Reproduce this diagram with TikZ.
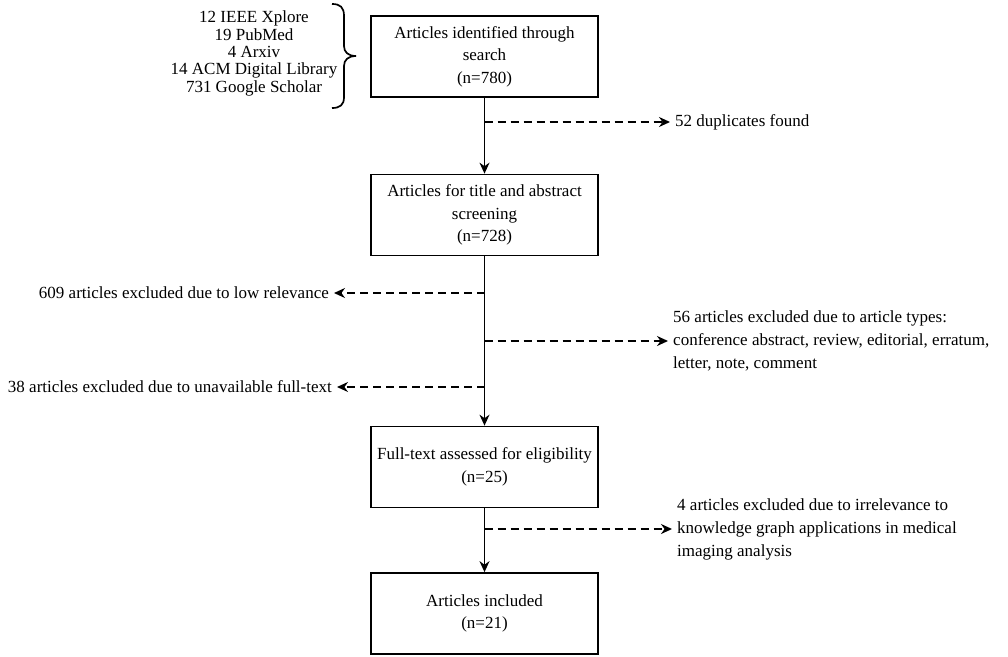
\documentclass[tikz,border=0pt]{standalone}
\usepackage{fontspec}
\setmainfont{Liberation Serif}
\usetikzlibrary{arrows.meta}
\begin{document}
\begin{tikzpicture}[x=1pt,y=-1pt,
  box/.style={draw,line width=1.7pt,minimum width=227pt,minimum height=81pt,align=center,font=\fontsize{17}{22.5}\selectfont,inner sep=0pt},
  lbl/.style={font=\fontsize{17}{23}\selectfont,inner ysep=0pt,inner xsep=5pt,align=left},
  flow/.style={-{Stealth[length=11pt,width=10pt]},line width=1.7pt},
  ex/.style={-{Stealth[length=11pt,width=10pt]},line width=1.7pt,dash pattern=on 8pt off 5pt}]
\useasboundingbox (0,0) rectangle (1008,656);
\node[box] (b1) at (484.5,56.5) {Articles identified through\\search\\(n=780)};
\node[box] (b2) at (484.5,215) {Articles for title and abstract\\screening\\(n=728)};
\node[box] (b3) at (484.5,467) {Full-text assessed for eligibility\\(n=25)};
\node[box] (b4) at (484.5,613.5) {Articles included\\(n=21)};
\node[font=\fontsize{17}{17.3}\selectfont,align=center,inner sep=0pt] (src) at (254,53.5) {12 IEEE Xplore\\19 PubMed\\4 Arxiv\\14 ACM Digital Library\\731 Google Scholar};
\draw[line width=1.7pt] (332,4) .. controls (340,4) and (344,7) .. (344,16)
  -- (344,46) .. controls (344,52) and (348,56) .. (356,56)
  .. controls (348,56) and (344,60) .. (344,66)
  -- (344,97) .. controls (344,105) and (340,108) .. (332,108);
\draw[flow] (b1) -- (b2);
\draw[flow] (b2) -- (b3);
\draw[flow] (b3) -- (b4);
\node[lbl,anchor=west] (t52) at (670,122) {52 duplicates found};
\node[lbl,anchor=east] (t609) at (334,293) {609 articles excluded due to low relevance};
\node[lbl,anchor=west] (t56) at (668,341) {56 articles excluded due to article types:\\conference abstract, review, editorial, erratum,\\letter, note, comment};
\node[lbl,anchor=east] (t38) at (337,387) {38 articles excluded due to unavailable full-text};
\node[lbl,anchor=west] (t4) at (672,529) {4 articles excluded due to irrelevance to\\knowledge graph applications in medical\\imaging analysis};
\coordinate (c52) at (b1.south |- t52);
\coordinate (c609) at (b1.south |- t609);
\coordinate (c56) at (b1.south |- t56);
\coordinate (c38) at (b1.south |- t38);
\coordinate (c4) at (b1.south |- t4);
\draw[ex] (c52) -- (t52.west);
\draw[ex] (c609) -- (t609.east);
\draw[ex] (c56) -- (t56.west);
\draw[ex] (c38) -- (t38.east);
\draw[ex] (c4) -- (t4.west);
\end{tikzpicture}
\end{document}
